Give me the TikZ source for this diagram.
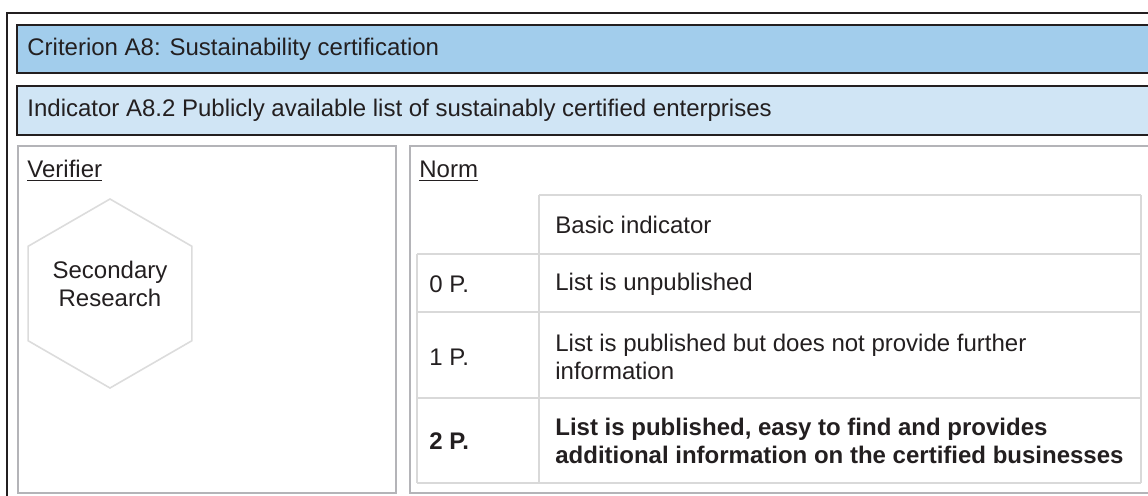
\documentclass[tikz,border=0pt]{standalone}
\usepackage{fontspec}
\setmainfont{Liberation Sans}
\usetikzlibrary{shapes.geometric}
\definecolor{rahmen}{RGB}{35,31,32}
\definecolor{kritblau}{RGB}{162,205,236}
\definecolor{indblau}{RGB}{208,229,245}
\definecolor{boxgrau}{RGB}{180,180,184}
\definecolor{linie}{RGB}{217,217,217}
\definecolor{hexgrau}{RGB}{220,220,220}

\begin{document}
\begin{tikzpicture}[x=0.5pt,y=-0.5pt,
    txt/.style={text=rahmen,inner sep=0pt,anchor=west,align=left,
        font=\fontsize{12}{14}\selectfont},
    kopf/.style={draw=rahmen,line width=1pt},
    feld/.style={draw=boxgrau,line width=1.3pt},
    zelle/.style={draw=linie,line width=0.8pt},
    hexa/.style={draw=hexgrau,line width=0.8pt,regular polygon,
        regular polygon sides=6,shape border rotate=30,minimum size=94.5pt,
        inner sep=0pt}]
    \useasboundingbox (0,0) rectangle (1148,495);
    \clip (0,0) rectangle (1148,495);

    % frames
    \draw[kopf] (7,13) rectangle (1170,520);
    \draw[kopf,fill=kritblau] (17,25) rectangle (1170,73);
    \draw[kopf,fill=indblau] (17,86) rectangle (1170,135);
    \draw[feld] (18,146) rectangle (396,493);
    \draw[feld] (410,146) rectangle (1170,493);

    \node[txt] (krit) at (27,49) {Criterion A8: Sustainability certification};
    \node[txt] (indi) at (27,110) {Indicator A8.2 Publicly available list of sustainably certified enterprises};
    \node[txt,anchor=base west] (verif) at (27,177) {\underline{Verifier}};
    \node[txt,anchor=base west] (norm) at (419,177) {\underline{Norm}};

    \node[hexa] (hex) at (110,293.5) {};
    \node[txt,anchor=center,align=center] (sek) at (110,284) {Secondary\\Research};

    % table
    \draw[zelle] (539,195) -- (1141,195);
    \foreach \y in {254,312,398,483}
        \draw[zelle] (417,\y) -- (1141,\y);
    \draw[zelle] (417,254) -- (417,483);
    \draw[zelle] (539,195) -- (539,483);
    \draw[zelle] (1141,195) -- (1141,483);

    \node[txt] (basis) at (555,225) {Basic indicator};
    \node[txt] (p0) at (429,284) {0 P.};
    \node[txt] (t0) at (555,284) {List is unpublished};
    \node[txt] (p1) at (429,357) {1 P.};
    \node[txt] (t1) at (555,357) {List is published but does not provide further\\information};
    \node[txt,font=\fontsize{12}{14}\selectfont\bfseries] (p2) at (429,441) {2 P.};
    \node[txt,font=\fontsize{12}{14}\selectfont\bfseries] (t2) at (555,441)
        {List is published, easy to find and provides\\additional information on the certified businesses};
\end{tikzpicture}
\end{document}
